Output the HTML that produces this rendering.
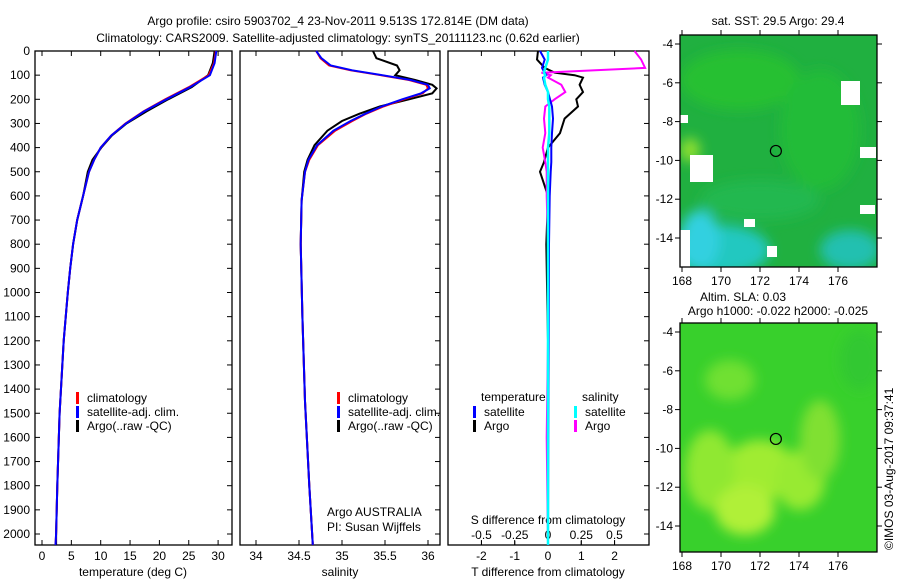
<!DOCTYPE html>
<html><head><meta charset="utf-8"><style>
body{margin:0;background:#fff;}
svg{display:block;font-family:"Liberation Sans",sans-serif;font-size:12px;}
</style></head><body>
<svg id="s" width="900" height="580" viewBox="0 0 900 580">
<defs><filter id="bl" x="-50%" y="-50%" width="200%" height="200%"><feGaussianBlur stdDeviation="6"/></filter>
<clipPath id="c1"><rect x="680" y="35" width="197" height="232"/></clipPath>
<clipPath id="c2"><rect x="680" y="323" width="197" height="229"/></clipPath></defs>
<text x="338" y="25" text-anchor="middle">Argo profile: csiro 5903702_4 23-Nov-2011 9.513S 172.814E (DM data)</text>
<text x="338" y="42" text-anchor="middle">Climatology: CARS2009. Satellite-adjusted climatology: synTS_20111123.nc (0.62d earlier)</text>
<g id="maps"></g>
<g id="g"></g>
<text x="778" y="25" text-anchor="middle">sat. SST: 29.5 Argo: 29.4</text>
<text x="743" y="301" text-anchor="middle">Altim. SLA: 0.03</text>
<text x="778" y="315" text-anchor="middle">Argo h1000: -0.022 h2000: -0.025</text>
<text transform="translate(893,550) rotate(-90)">©IMOS 03-Aug-2017 09:37:41</text>
</svg>
<script>
const depthTicks=[0,100,200,300,400,500,600,700,800,900,1000,1100,1200,1300,1400,1500,1600,1700,1800,1900,2000];
const tTicks=[0,5,10,15,20,25,30];
const sTicks=[34,34.5,35,35.5,36];
const sTickLabels=["34","34.5","35","35.5","36"];
const tdTicks=[-2,-1,0,1,2];
const sdTicks=[-0.5,-0.25,0,0.25,0.5];
const sdTickLabels=["-0.5","-0.25","0","0.25","0.5"];
const climDepth=[0,50,100,150,200,250,300,350,400,450,500,600,700,800,900,1000,1200,1500,1800,2000,2045];
const climT=[29.6,29.3,28.4,25,21,17.3,14.2,11.8,10,8.9,8,7,6,5.3,4.8,4.4,3.7,3.0,2.6,2.4,2.3];
const satT=[29.7,29.4,28.6,25.2,21.2,17.4,14.3,11.8,10,8.9,8,7,6,5.3,4.8,4.4,3.7,3.0,2.6,2.4,2.3];
const argoT=[29.4,29.1,28.3,25.5,21.5,17.8,14.4,11.9,10.1,8.6,7.8,7,6,5.3,4.8,4.4,3.7,3.0,2.6,2.4,2.4];
const salDepth=[0,30,60,80,100,120,140,155,175,200,230,260,290,330,390,450,500,620,800,1100,1450,1800,2045];
const climS=[34.7,34.75,34.85,35.1,35.45,35.78,35.98,36.0,35.94,35.72,35.48,35.28,35.12,34.92,34.72,34.62,34.57,34.53,34.52,34.54,34.57,34.62,34.66];
const satS=[34.7,34.76,34.87,35.12,35.47,35.8,36.0,36.02,35.92,35.7,35.46,35.27,35.1,34.9,34.71,34.61,34.57,34.53,34.52,34.54,34.57,34.62,34.66];
const argoS=[35.36,35.4,35.64,35.67,35.62,35.85,36.05,36.1,36.05,35.78,35.44,35.2,35.0,34.83,34.68,34.6,34.56,34.53,34.52,34.54,34.57,34.62,34.66];
const dDepth=[0,35,70,90,100,110,140,170,200,230,280,340,400,460,500,600,800,1200,1600,2045];
const dTargo=[-0.3,-0.33,-0.1,0.2,0.8,1.05,0.95,1.05,0.85,0.9,0.5,0.36,0.0,-0.12,-0.24,0.0,-0.05,0,0,0];
const dTsat=[-0.24,-0.1,-0.18,-0.1,-0.05,-0.15,-0.1,0.0,0.06,0.12,0.15,0.12,0.1,0.1,0.08,0.05,0.03,0.02,0.01,0];
const dSargo=[0.65,0.7,0.73,-0.05,0.02,0.0,0.1,0.13,0.05,-0.02,-0.03,-0.02,-0.04,-0.02,-0.01,-0.01,0,0,-0.01,0];
const dSsat=[0.0,0.0,-0.02,-0.03,-0.02,-0.03,-0.02,0.0,0.0,0.01,0.01,0.01,0.0,0.0,0.0,0.0,0,0,0,0];
const lonTicks=[168,170,172,174,176];
const latTicks=[-4,-6,-8,-10,-12,-14];
const argoLon=172.814, argoLat=-9.513;

const NS="http://www.w3.org/2000/svg";
const G=document.getElementById('g');
function mk(t,a,p){const e=document.createElementNS(NS,t);for(const k in a)e.setAttribute(k,a[k]);(p||G).appendChild(e);return e;}
const Y=d=>51+d*0.2415;
const panels=[{x0:35,x1:232},{x0:240,x1:440},{x0:448,x1:649}];
const xT=t=>42+t*5.87, xS=s=>256+(s-34)*86, xTd=t=>548+t*33.3, xSd=s=>548+s*133;
function line(xs,ds,fx,col,w,name){
  const pts=xs.map((v,i)=>fx(v).toFixed(1)+','+Y(ds[i]).toFixed(1)).join(' ');
  const e=mk('polyline',{points:pts,fill:'none',stroke:col,'stroke-width':w});
  
  
}
function txt(x,y,s,anc,name){const e=mk('text',{x:x,y:y,'text-anchor':anc||'start'});e.textContent=s;
  
  }
panels.forEach((p,i)=>{
  const r=mk('rect',{x:p.x0,y:51,width:p.x1-p.x0,height:494,fill:'none',stroke:'#000','stroke-width':1.3});
  
  
  depthTicks.forEach(d=>{mk('line',{x1:p.x1-5,x2:p.x1,y1:Y(d),y2:Y(d),stroke:'#000'});});
});
depthTicks.forEach(d=>{mk('line',{x1:35,x2:40,y1:Y(d),y2:Y(d),stroke:'#000'});txt(30,Y(d)+4,String(d),'end','depth-tick-label');});
tTicks.forEach(t=>{mk('line',{x1:xT(t),x2:xT(t),y1:545,y2:540,stroke:'#000'});mk('line',{x1:xT(t),x2:xT(t),y1:51,y2:56,stroke:'#000'});txt(xT(t),560,String(t),'middle','temp-tick-label');});
sTicks.forEach((s,i)=>{mk('line',{x1:xS(s),x2:xS(s),y1:545,y2:540,stroke:'#000'});mk('line',{x1:xS(s),x2:xS(s),y1:51,y2:56,stroke:'#000'});txt(xS(s),560,sTickLabels[i],'middle','sal-tick-label');});
tdTicks.forEach(t=>{mk('line',{x1:xTd(t),x2:xTd(t),y1:545,y2:540,stroke:'#000'});mk('line',{x1:xTd(t),x2:xTd(t),y1:51,y2:56,stroke:'#000'});txt(xTd(t),560,String(t),'middle','tdiff-tick-label');});
sdTicks.forEach((s,i)=>{txt(xSd(s),539,sdTickLabels[i],'middle','sdiff-tick-label');mk('line',{x1:xSd(s),x2:xSd(s),y1:545,y2:541,stroke:'#000'});});
txt(133,576,'temperature (deg C)','middle','temp-axis-title');
txt(340,576,'salinity','middle','sal-axis-title');
txt(548,576,'T difference from climatology','middle','tdiff-axis-title');
txt(548,524,'S difference from climatology','middle','sdiff-axis-title');
txt(327,516,'Argo AUSTRALIA','start','argo-australia-label');
txt(327,531,'PI: Susan Wijffels','start','pi-label');
line(argoT,climDepth,xT,'#000',2,'temp-argo-line');
line(climT,climDepth,xT,'#f00',2,'temp-clim-line');
line(satT,climDepth,xT,'#00f',2,'temp-sat-line');
line(argoS,salDepth,xS,'#000',2,'sal-argo-line');
line(climS,salDepth,xS,'#f00',2,'sal-clim-line');
line(satS,salDepth,xS,'#00f',2,'sal-sat-line');
line(dTargo,dDepth,xTd,'#000',2,'tdiff-argo-line');
line(dSargo,dDepth,xSd,'#f0f',2,'sdiff-argo-line');
line(dTsat,dDepth,xTd,'#00f',2,'tdiff-sat-line');
line(dSsat,dDepth,xSd,'#0ff',2.5,'sdiff-sat-line');
function leg(x,y,col,s,name){const r=mk('rect',{x:x,y:y-10,width:3,height:12,fill:col});txt(x+11,y,s,'start',name);}
[[76,'#f00','climatology'],[76,'#00f','satellite-adj. clim.'],[76,'#000','Argo(..raw -QC)']].forEach((l,i)=>leg(l[0],402+i*14,l[1],l[2],'temp-legend-entry'));
[[337,'#f00','climatology'],[337,'#00f','satellite-adj. clim.'],[337,'#000','Argo(..raw -QC)']].forEach((l,i)=>leg(l[0],402+i*14,l[1],l[2],'sal-legend-entry'));
txt(481,401,'temperature','start','tdiff-legend-title');txt(582,401,'salinity','start','sdiff-legend-title');
leg(473,416,'#00f','satellite','tdiff-legend-sat');leg(473,430,'#000','Argo','tdiff-legend-argo');
leg(574,416,'#0ff','satellite','sdiff-legend-sat');leg(574,430,'#f0f','Argo','sdiff-legend-argo');

// maps
const M=document.getElementById('maps');
function mapFrame(y0,h,lat0,name,clip,base,blobs){
  const lx=l=>682+(l-168)*19.5, ly=l=>y0+9+(-4-l)*19.4;
  const g=mk('g',{'clip-path':'url(#'+clip+')'},M);
  
  
  mk('rect',{x:680,y:y0,width:197,height:h,fill:base},g);
  const bg=mk('g',{filter:'url(#bl)'},g);
  blobs.forEach(b=>mk('ellipse',{cx:b[0],cy:b[1],rx:b[2],ry:b[3],fill:b[4]},bg));
  return {lx,ly,g};
}
const m1=mapFrame(35,232,-4,'sst-map','c1','#20b040',[[740,80,60,30,'#28c030'],[820,130,40,60,'#22bc38'],[720,250,50,25,'#20c8c0'],[850,250,30,20,'#20c0b0'],[700,240,20,30,'#30d0e0'],[760,200,60,20,'#20b850'],[690,150,10,12,'#90e030']]);
[[680,115,8,8],[690,155,23,27],[744,219,11,8],[767,246,10,11],[860,147,16,11],[841,81,19,24],[860,205,15,9],[680,230,10,37]].forEach(r=>{const e=mk('rect',{x:r[0],y:r[1],width:r[2],height:r[3],fill:'#fff'},m1.g);});
const m2=mapFrame(323,229,-4,'sla-map','c2','#38d02c',[[730,380,25,20,'#70e030'],[760,470,35,30,'#a0ec30'],[710,470,25,40,'#90e830'],[800,480,25,30,'#98ea30'],[745,510,30,25,'#b0f038'],[820,440,20,40,'#80e030'],[860,360,20,30,'#30c830']]);
[[35,232,m1],[323,229,m2]].forEach((q,k)=>{
  const y0=q[0],h=q[1],m=q[2];
  const f=mk('rect',{x:680,y:y0,width:197,height:h,fill:'none',stroke:'#000','stroke-width':1.3},M);
  
  lonTicks.forEach(l=>{mk('line',{x1:m.lx(l),x2:m.lx(l),y1:y0,y2:y0-5,stroke:'#000'},M);mk('line',{x1:m.lx(l),x2:m.lx(l),y1:y0+h,y2:y0+h+5,stroke:'#000'},M);
    const t=mk('text',{x:m.lx(l),y:y0+h+18,'text-anchor':'middle'},M);t.textContent=l;});
  latTicks.forEach(l=>{const yy=m.ly(l);mk('line',{x1:675,x2:680,y1:yy,y2:yy,stroke:'#000'},M);mk('line',{x1:877,x2:882,y1:yy,y2:yy,stroke:'#000'},M);
    const t=mk('text',{x:673,y:yy+4,'text-anchor':'end'},M);t.textContent=l;});
  const c=mk('circle',{cx:m.lx(argoLon),cy:m.ly(argoLat),r:5.5,fill:'none',stroke:'#000','stroke-width':1.2},M);
  
});
</script>
</body></html>
